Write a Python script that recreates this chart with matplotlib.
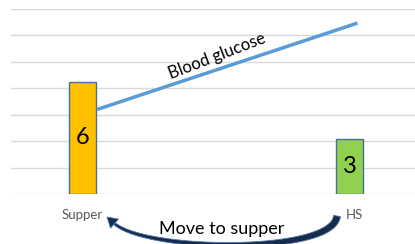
import numpy as np
import matplotlib.pyplot as plt
from matplotlib.patches import Polygon
from matplotlib.transforms import Affine2D, ScaledTranslation

# data
categories = ['Supper', 'HS']
insulin = [4.25, 2.07]
insulin_labels = ['6', '3']
bar_colors = ['#FFC000', '#92D050']
glucose_x = [0.055, 1.03]
glucose = [3.2, 6.47]

plt.rcParams['font.family'] = ['Lato', 'DejaVu Sans']

fig = plt.figure(figsize=(4.15, 2.44), dpi=100)
ax = fig.add_axes([0.0265, 0.205, 0.9735, 0.758])

x = range(len(categories))
ax.bar(x, insulin, width=0.1, color=bar_colors, edgecolor='#41719C', linewidth=1, zorder=3)
for i, (v, lab) in enumerate(zip(insulin, insulin_labels)):
    ax.text(i, v / 2, lab, ha='center', va='center', fontsize=17, color='black', zorder=4)

ax.plot(glucose_x, glucose, color='#5B9BD5', linewidth=2.5, zorder=3, solid_capstyle='butt')
ax.text(0.505, 5.2, 'Blood glucose', rotation=21, ha='center', va='center', fontsize=12,
        rotation_mode='anchor')

ax.set_xlim(-0.268, 1.245)
ax.set_ylim(0, 7)
ax.set_yticks(range(0, 8))
ax.yaxis.grid(True, color='#D9D9D9', linewidth=1)
ax.set_axisbelow(True)
ax.tick_params(left=False, bottom=False, labelleft=False)
ax.set_xticks(list(x))
ax.set_xticklabels(categories, fontsize=9.5, color='#595959')
ax.tick_params(axis='x', pad=7)
# the HS label sits a little right of its bar in the original
hs = ax.get_xticklabels()[1]
hs.set_transform(hs.get_transform() + ScaledTranslation(0.05, 0, fig.dpi_scale_trans))
for s in ax.spines.values():
    s.set_visible(False)

# curved block arrow HS -> Supper (drawn in pixel coords of the figure)
W, H = 415, 244
px = Affine2D().scale(1 / W, 1 / H) + fig.transFigure

tip = np.array([107.0, 27.0])
d = np.array([-0.75, 0.66])
d /= np.linalg.norm(d)
base = tip - 10 * d
P0, P1, P2, P3 = np.array([337.0, 28.0]), np.array([333.0, -11.0]), base - 42 * d, base
t = np.linspace(0, 1, 60)[:, None]
c = (1 - t) ** 3 * P0 + 3 * (1 - t) ** 2 * t * P1 + 3 * (1 - t) * t ** 2 * P2 + t ** 3 * P3
tan = np.gradient(c, axis=0)
nrm = np.column_stack([-tan[:, 1], tan[:, 0]])
nrm /= np.linalg.norm(nrm, axis=1)[:, None]
w = (7 - 4.5 * t[:, 0]) / 2
body = np.vstack([c + nrm * w[:, None], (c - nrm * w[:, None])[::-1]])
perp = np.array([-d[1], d[0]])
head = np.array([tip, base + perp * 6, base - perp * 6])

for shape in (body, head):
    fig.patches.append(Polygon(shape, closed=True, transform=px, facecolor='#172B4D',
                               edgecolor='#4A78A8', linewidth=0.6))

fig.text(222 / W, 1 - 229 / H, 'Move to supper', ha='center', va='center', fontsize=13)

fig.savefig('out.png', dpi=100)
